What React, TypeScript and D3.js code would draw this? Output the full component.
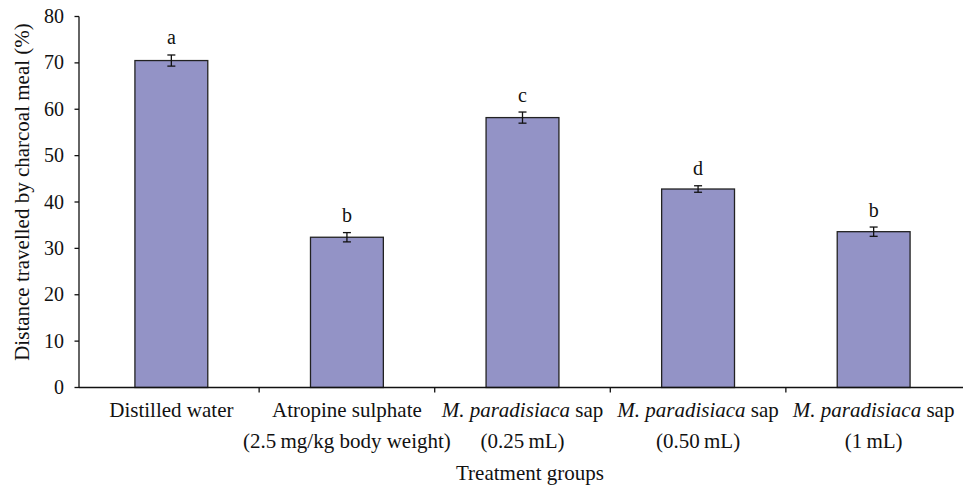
import { useMemo } from 'react';
import * as d3 from 'd3';

const groups = ['Distilled water', 'Atropine sulphate', 'M. paradisiaca 0.25', 'M. paradisiaca 0.50', 'M. paradisiaca 1'];
const values = [70.5, 32.4, 58.2, 42.8, 33.6];
const errors = [1.2, 1.0, 1.2, 0.7, 1.0];
const letters = ['a', 'b', 'c', 'd', 'b'];
const labelLine1 = [
  [{ t: 'Distilled water', i: false }],
  [{ t: 'Atropine sulphate', i: false }],
  [{ t: 'M. paradisiaca', i: true }, { t: ' sap', i: false }],
  [{ t: 'M. paradisiaca', i: true }, { t: ' sap', i: false }],
  [{ t: 'M. paradisiaca', i: true }, { t: ' sap', i: false }],
];
const labelLine2 = ['', '(2.5\u2009mg/kg body weight)', '(0.25\u2009mL)', '(0.50\u2009mL)', '(1\u2009mL)'];
const yTicks = [0, 10, 20, 30, 40, 50, 60, 70, 80];

const FONT = '"Liberation Serif", "Times New Roman", serif';

export default function App() {
  const width = 973;
  const height = 486;
  const axisX = 79;
  const axisRight = 963;

  const { x, y } = useMemo(() => {
    const x = d3.scaleBand<string>()
      .domain(groups)
      .range([84, 961])
      .paddingInner(0.585)
      .paddingOuter(0.29);
    const y = d3.scaleLinear().domain([0, 80]).range([387.5, 16.5]);
    return { x, y };
  }, []);

  const step = x.step();
  const bw = x.bandwidth();
  const base = y(0);

  return (
    <svg width={width} height={height} style={{ position: 'absolute', left: 0, top: 0 }} fontFamily={FONT}>
      <rect width={width} height={height} fill="#fff" />

      {/* Bars */}
      {groups.map((g, i) => {
        const x0 = x(g)!;
        const cx = x0 + bw / 2;
        const top = y(values[i]);
        const eTop = y(values[i] + errors[i]);
        const eBot = y(values[i] - errors[i]);
        return (
          <g key={g}>
            <rect x={x0} y={top} width={bw} height={base - top} fill="#9393c6" stroke="#222" strokeWidth={1.3} />
            <line x1={cx} x2={cx} y1={eTop} y2={eBot} stroke="#111" strokeWidth={1.3} />
            <line x1={cx - 4} x2={cx + 4} y1={eTop} y2={eTop} stroke="#111" strokeWidth={1.3} />
            <line x1={cx - 4} x2={cx + 4} y1={eBot} y2={eBot} stroke="#111" strokeWidth={1.3} />
            <text x={cx} y={eTop - 10.5} textAnchor="middle" fontSize={20} fill="#111">{letters[i]}</text>
          </g>
        );
      })}

      {/* Y axis */}
      <line x1={axisX} x2={axisX} y1={y(80)} y2={base} stroke="#111" strokeWidth={1.3} />
      {yTicks.map((t) => (
        <g key={t} transform={`translate(${axisX},${y(t)})`}>
          <line x1={-4.5} x2={0} stroke="#111" strokeWidth={1.3} />
          <text x={-15} dy="0.33em" textAnchor="end" fontSize={20} fill="#111">{t}</text>
        </g>
      ))}
      <text
        transform={`translate(29,${(y(80) + base) / 2 - 10}) rotate(-90)`}
        textAnchor="middle"
        fontSize={21}
        fill="#111"
      >
        Distance travelled by charcoal meal (%)
      </text>

      {/* X axis */}
      <line x1={axisX} x2={axisRight} y1={base} y2={base} stroke="#111" strokeWidth={1.3} />
      {groups.map((g, i) => {
        const edge = x(g)! + bw + (step - bw) / 2;
        return i < groups.length - 1 ? (
          <line key={`t-${g}`} x1={edge} x2={edge} y1={base} y2={base + 5} stroke="#111" strokeWidth={1.3} />
        ) : null;
      })}
      {groups.map((g, i) => {
        const cx = x(g)! + bw / 2;
        return (
          <g key={`l-${g}`}>
            <text x={cx} y={base + 29} textAnchor="middle" fontSize={21} fill="#111">
              {labelLine1[i].map((p, k) => (
                <tspan key={k} fontStyle={p.i ? 'italic' : 'normal'}>{p.t}</tspan>
              ))}
            </text>
            {labelLine2[i] && (
              <text x={cx} y={base + 60} textAnchor="middle" fontSize={21} fill="#111">{labelLine2[i]}</text>
            )}
          </g>
        );
      })}
      <text x={(axisX + axisRight) / 2 + 9} y={base + 92} textAnchor="middle" fontSize={21} fill="#111">
        Treatment groups
      </text>
    </svg>
  );
}
